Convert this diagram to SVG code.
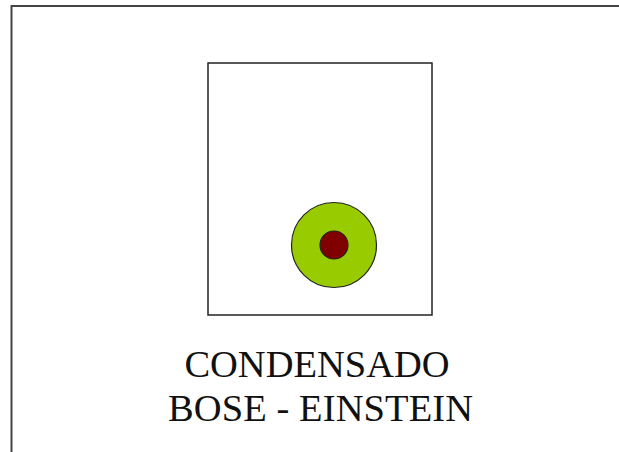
<svg xmlns="http://www.w3.org/2000/svg" width="619" height="452" viewBox="0 0 619 452">
<style>
.frame{fill:none;stroke:#444;stroke-width:2}
.box{fill:none;stroke:#222;stroke-width:1.5}
.lbl{font-family:"Liberation Serif","Times New Roman",serif;font-size:38.5px;fill:#111;text-anchor:middle}
</style>
<rect width="619" height="452" fill="#fff"/>
<g id="frame"><rect class="frame" x="11.5" y="6" width="640" height="480"/></g>
<g id="container"><rect class="box" x="208" y="63" width="224" height="252"/></g>
<g id="particle">
<circle cx="334" cy="245" r="42.5" fill="#99cc00" stroke="#222" stroke-width="1.2"/>
<circle cx="334" cy="245" r="14" fill="#800000" stroke="#222" stroke-width="1.2"/>
</g>
<g id="label">
<text class="lbl" x="317" y="376.5">CONDENSADO</text>
<text class="lbl" x="320.5" y="420.5" textLength="305" lengthAdjust="spacing">BOSE - EINSTEIN</text>
</g>
<g id="connectors"/>
</svg>
